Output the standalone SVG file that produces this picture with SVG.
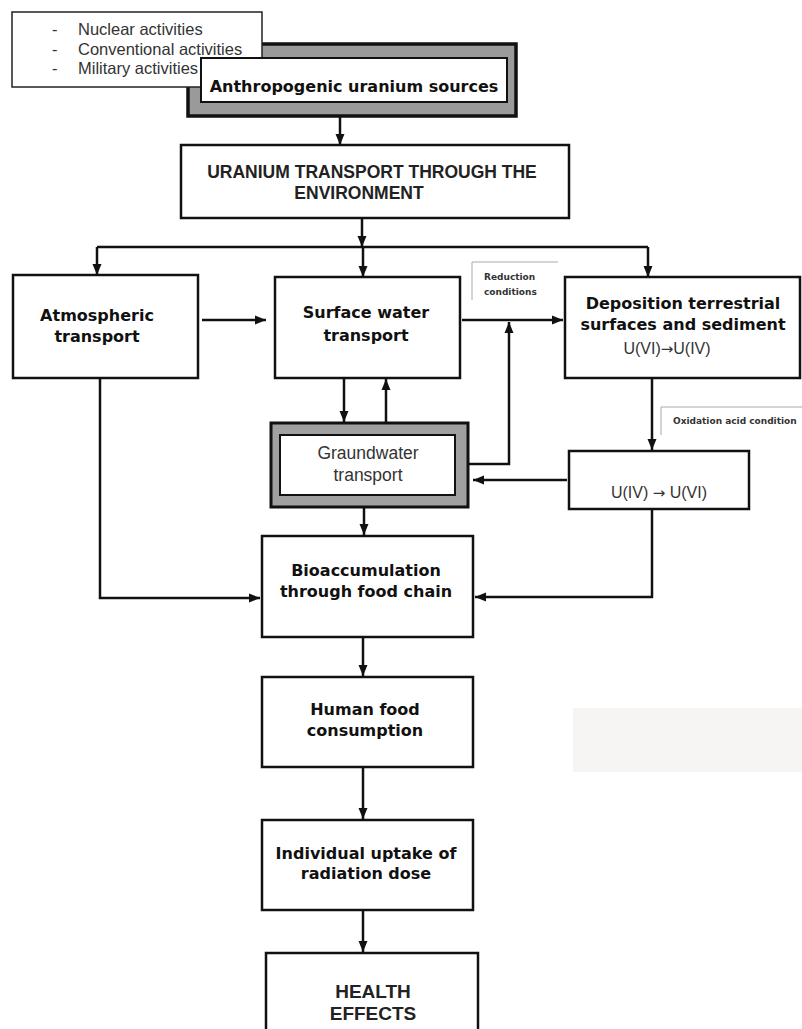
<svg xmlns="http://www.w3.org/2000/svg" width="802" height="1029" viewBox="0 0 802 1029">
<style>
.box{fill:#fff;stroke:#111;stroke-width:2.5}
.bold{font-family:"DejaVu Sans",sans-serif;font-weight:bold;font-size:16px;fill:#111;text-anchor:middle}
.reg{font-family:"Liberation Sans",Arial,sans-serif;fill:#333}
.caps{font-family:"Liberation Sans",Arial,sans-serif;font-weight:bold;fill:#222;text-anchor:middle}
.small{font-family:"DejaVu Sans",sans-serif;font-weight:bold;font-size:9px;fill:#333}
.arr{font-family:"DejaVu Sans",sans-serif;font-size:15px}
.bracket{fill:none;stroke:#aaa;stroke-width:1}
.conn path{fill:none;stroke:#111;stroke-width:2.5}
</style>
<defs>
<marker id="ah" markerUnits="userSpaceOnUse" markerWidth="12" markerHeight="12" viewBox="0 0 12 12" refX="11" refY="6" orient="auto">
<path d="M0,1.5 L11,6 L0,10.5 Z" fill="#111"/>
</marker>
</defs>
<rect width="802" height="1029" fill="#fff"/>
<rect x="573" y="708" width="229" height="64" fill="#f6f5f3"/>

<g id="anthropogenic">
<rect x="188" y="44" width="328" height="72" fill="#9a9a9a" stroke="#111" stroke-width="3.5"/>
</g>
<g id="activities">
<rect x="12" y="12" width="250" height="75" fill="#fff" stroke="#222" stroke-width="1.5"/>
<g class="reg" font-size="16.5">
<text x="52" y="35">-</text><text x="78" y="35">Nuclear activities</text>
<text x="52" y="55">-</text><text x="78" y="55">Conventional activities</text>
<text x="52" y="74">-</text><text x="78" y="74">Military activities</text>
</g>
</g>
<g id="anthropogenic-inner">
<rect x="201" y="58" width="306" height="44" fill="#fff" stroke="#111" stroke-width="2"/>
<text class="bold" x="354" y="92" font-size="15">Anthropogenic uranium sources</text>
</g>

<g id="uranium-transport">
<rect class="box" x="181" y="145" width="388" height="73"/>
<text class="caps" x="372" y="178" font-size="17.5">URANIUM TRANSPORT THROUGH THE</text>
<text class="caps" x="359" y="199" font-size="17.5">ENVIRONMENT</text>
</g>

<g id="atmospheric">
<rect class="box" x="13" y="275" width="185" height="103"/>
<text class="bold" x="97" y="321">Atmospheric</text>
<text class="bold" x="97" y="342">transport</text>
</g>

<g id="surface-water">
<rect class="box" x="275" y="277" width="185" height="101"/>
<text class="bold" x="366" y="318">Surface water</text>
<text class="bold" x="366" y="341">transport</text>
</g>

<g id="deposition">
<rect class="box" x="565" y="277" width="235" height="101"/>
<text class="bold" x="683" y="309">Deposition terrestrial</text>
<text class="bold" x="683" y="330">surfaces and sediment</text>
<text class="reg" x="667" y="354" font-size="16" text-anchor="middle">U(VI)<tspan class="arr">→</tspan>U(IV)</text>
</g>

<g id="reduction-label">
<path class="bracket" d="M472,300 V262 H558"/>
<text class="small" x="484" y="280">Reduction</text>
<text class="small" x="484" y="295">conditions</text>
</g>

<g id="oxidation-label">
<path class="bracket" d="M661,435 V407 H802"/>
<text class="small" x="673" y="424">Oxidation acid condition</text>
</g>

<g id="groundwater">
<rect x="271" y="423" width="197" height="84" fill="#a0a0a0" stroke="#111" stroke-width="3"/>
<rect x="280" y="435" width="175" height="60" fill="#fff" stroke="#111" stroke-width="2"/>
<text class="reg" x="368" y="459" font-size="17.5" text-anchor="middle" fill="#222">Graundwater</text>
<text class="reg" x="368" y="481" font-size="17.5" text-anchor="middle" fill="#222">transport</text>
</g>

<g id="oxidation">
<rect class="box" x="569" y="451" width="180" height="58"/>
<text class="reg" x="659" y="498" font-size="16" text-anchor="middle">U(IV) <tspan class="arr">→</tspan> U(VI)</text>
</g>

<g id="bioaccumulation">
<rect class="box" x="262" y="536" width="211" height="101"/>
<text class="bold" x="366" y="576">Bioaccumulation</text>
<text class="bold" x="366" y="597">through food chain</text>
</g>

<g id="human-food">
<rect class="box" x="262" y="677" width="211" height="90"/>
<text class="bold" x="365" y="715">Human food</text>
<text class="bold" x="365" y="736">consumption</text>
</g>

<g id="individual-uptake">
<rect class="box" x="262" y="820" width="211" height="90"/>
<text class="bold" x="366" y="859">Individual uptake of</text>
<text class="bold" x="366" y="879">radiation dose</text>
</g>

<g id="health-effects">
<rect class="box" x="266" y="953" width="212" height="90"/>
<text class="caps" x="373" y="998" font-size="19">HEALTH</text>
<text class="caps" x="373" y="1020" font-size="19">EFFECTS</text>
</g>

<g id="connectors" class="conn">
<path d="M340,117 V145" marker-end="url(#ah)"/>
<path d="M362,218 V247" marker-end="url(#ah)"/>
<path d="M97,247 H648" stroke-width="3"/>
<path d="M97,247 V275" marker-end="url(#ah)"/>
<path d="M363,247 V277" marker-end="url(#ah)"/>
<path d="M648,247 V277" marker-end="url(#ah)"/>
<path d="M202,320 H266" marker-end="url(#ah)"/>
<path d="M462,320 H563" marker-end="url(#ah)"/>
<path d="M344,378 V422" marker-end="url(#ah)"/>
<path d="M386,422 V379" marker-end="url(#ah)"/>
<path d="M469,464 H509 V322" marker-end="url(#ah)"/>
<path d="M652,378 V450" marker-end="url(#ah)"/>
<path d="M567,480 H473" marker-end="url(#ah)"/>
<path d="M100,378 V598 H260" marker-end="url(#ah)"/>
<path d="M652,509 V597 H475" marker-end="url(#ah)"/>
<path d="M364,508 V535" marker-end="url(#ah)"/>
<path d="M363,637 V676" marker-end="url(#ah)"/>
<path d="M363,767 V819" marker-end="url(#ah)"/>
<path d="M363,910 V952" marker-end="url(#ah)"/>
</g>
</svg>
